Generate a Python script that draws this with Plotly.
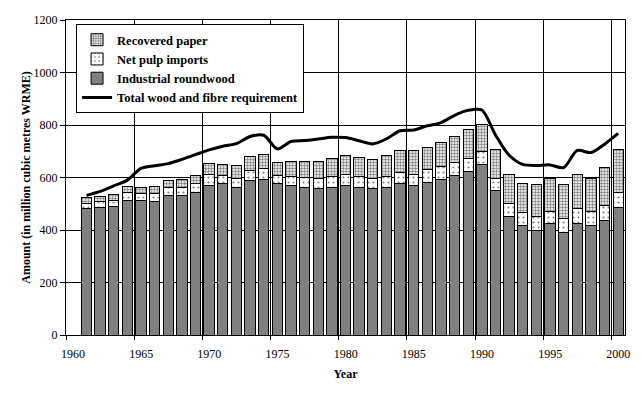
import plotly.graph_objects as go

years = list(range(1961, 2001))
roundwood = [483, 487, 490, 512, 513, 509, 531, 531, 544, 570,
             579, 563, 589, 594, 579, 569, 563, 559, 563, 569,
             563, 559, 563, 578, 570, 582, 593, 608, 624, 651,
             552, 450, 419, 400, 423, 391, 425, 419, 438, 485]
pulp = [17, 20, 24, 29, 25, 29, 30, 30, 34, 41,
        29, 32, 37, 39, 27, 33, 36, 36, 40, 42,
        40, 38, 40, 42, 42, 47, 50, 48, 48, 47,
        45, 52, 48, 50, 48, 53, 58, 51, 55, 58]
recovered = [24, 21, 22, 25, 25, 28, 28, 32, 30, 43,
             42, 51, 55, 55, 53, 60, 63, 67, 70, 71,
             75, 73, 79, 81, 89, 87, 92, 102, 112, 105,
             110, 110, 111, 124, 127, 130, 129, 128, 146, 164]
total = [532, 547, 568, 590, 635, 645, 653, 669, 687, 705,
         719, 729, 756, 761, 709, 737, 741, 747, 753, 752,
         740, 728, 747, 778, 781, 797, 809, 837, 856, 857,
         762, 685, 650, 646, 648, 638, 703, 695, 727, 768]
tick_years = list(range(1960, 2001, 5))

xc = [y + 0.5 for y in years]
serif = "Liberation Serif, Times New Roman, serif"
bw = 0.76

fig = go.Figure()
fig.add_trace(go.Bar(
    x=xc, y=roundwood, name="Industrial roundwood", width=bw,
    marker=dict(color="#808080", line=dict(color="black", width=1)),
    legendrank=3))
fig.add_trace(go.Bar(
    x=xc, y=pulp, name="Net pulp imports", width=bw,
    marker=dict(color="white", line=dict(color="black", width=1),
                pattern=dict(shape=".", fgcolor="black", bgcolor="white",
                             size=5, solidity=0.15)),
    legendrank=2))
fig.add_trace(go.Bar(
    x=xc, y=recovered, name="Recovered paper", width=bw,
    marker=dict(color="white", line=dict(color="black", width=1),
                pattern=dict(shape=".", fgcolor="black", bgcolor="white",
                             size=3, solidity=0.5)),
    legendrank=1))
fig.add_trace(go.Scatter(
    x=xc, y=total, name="Total wood and fibre requirement", mode="lines",
    line=dict(color="black", width=3, shape="spline", smoothing=0.8),
    legendrank=4))

fig.update_layout(
    width=634, height=386,
    margin=dict(l=58, r=17, t=12, b=59, autoexpand=False),
    barmode="stack",
    plot_bgcolor="white", paper_bgcolor="white",
    font=dict(family=serif, size=11, color="black"),
    legend=dict(
        x=0.018, y=0.987, xanchor="left", yanchor="top",
        bgcolor="white", bordercolor="black", borderwidth=1,
        traceorder="normal",
        font=dict(family=serif, size=12.5, color="black", weight="bold"),
        tracegroupgap=0, itemwidth=30,
    ),
    xaxis=dict(
        range=[1960, 2001], tickvals=tick_years,
        ticktext=[str(y) for y in tick_years],
        ticks="outside", ticklen=4, tickcolor="black",
        ticklabelshift=7, ticklabelstandoff=4, automargin=False,
        showgrid=True, gridcolor="black", gridwidth=1,
        showline=True, linecolor="black", linewidth=1, mirror=True,
        zeroline=False,
        tickfont=dict(family=serif, size=12),
        title=dict(text="<b>Year</b>", font=dict(family=serif, size=12), standoff=9),
    ),
    yaxis=dict(
        range=[0, 1200], dtick=200, automargin=False,
        ticks="outside", ticklen=5, tickcolor="black",
        showgrid=True, gridcolor="black", gridwidth=1,
        showline=True, linecolor="black", linewidth=1, mirror=True,
        zeroline=False,
        tickfont=dict(family=serif, size=12),
        title=dict(text="<b>Amount (in million cubic metres WRME)</b>",
                   font=dict(family=serif, size=12), standoff=0),
    ),
)

fig.write_html("out.html")
